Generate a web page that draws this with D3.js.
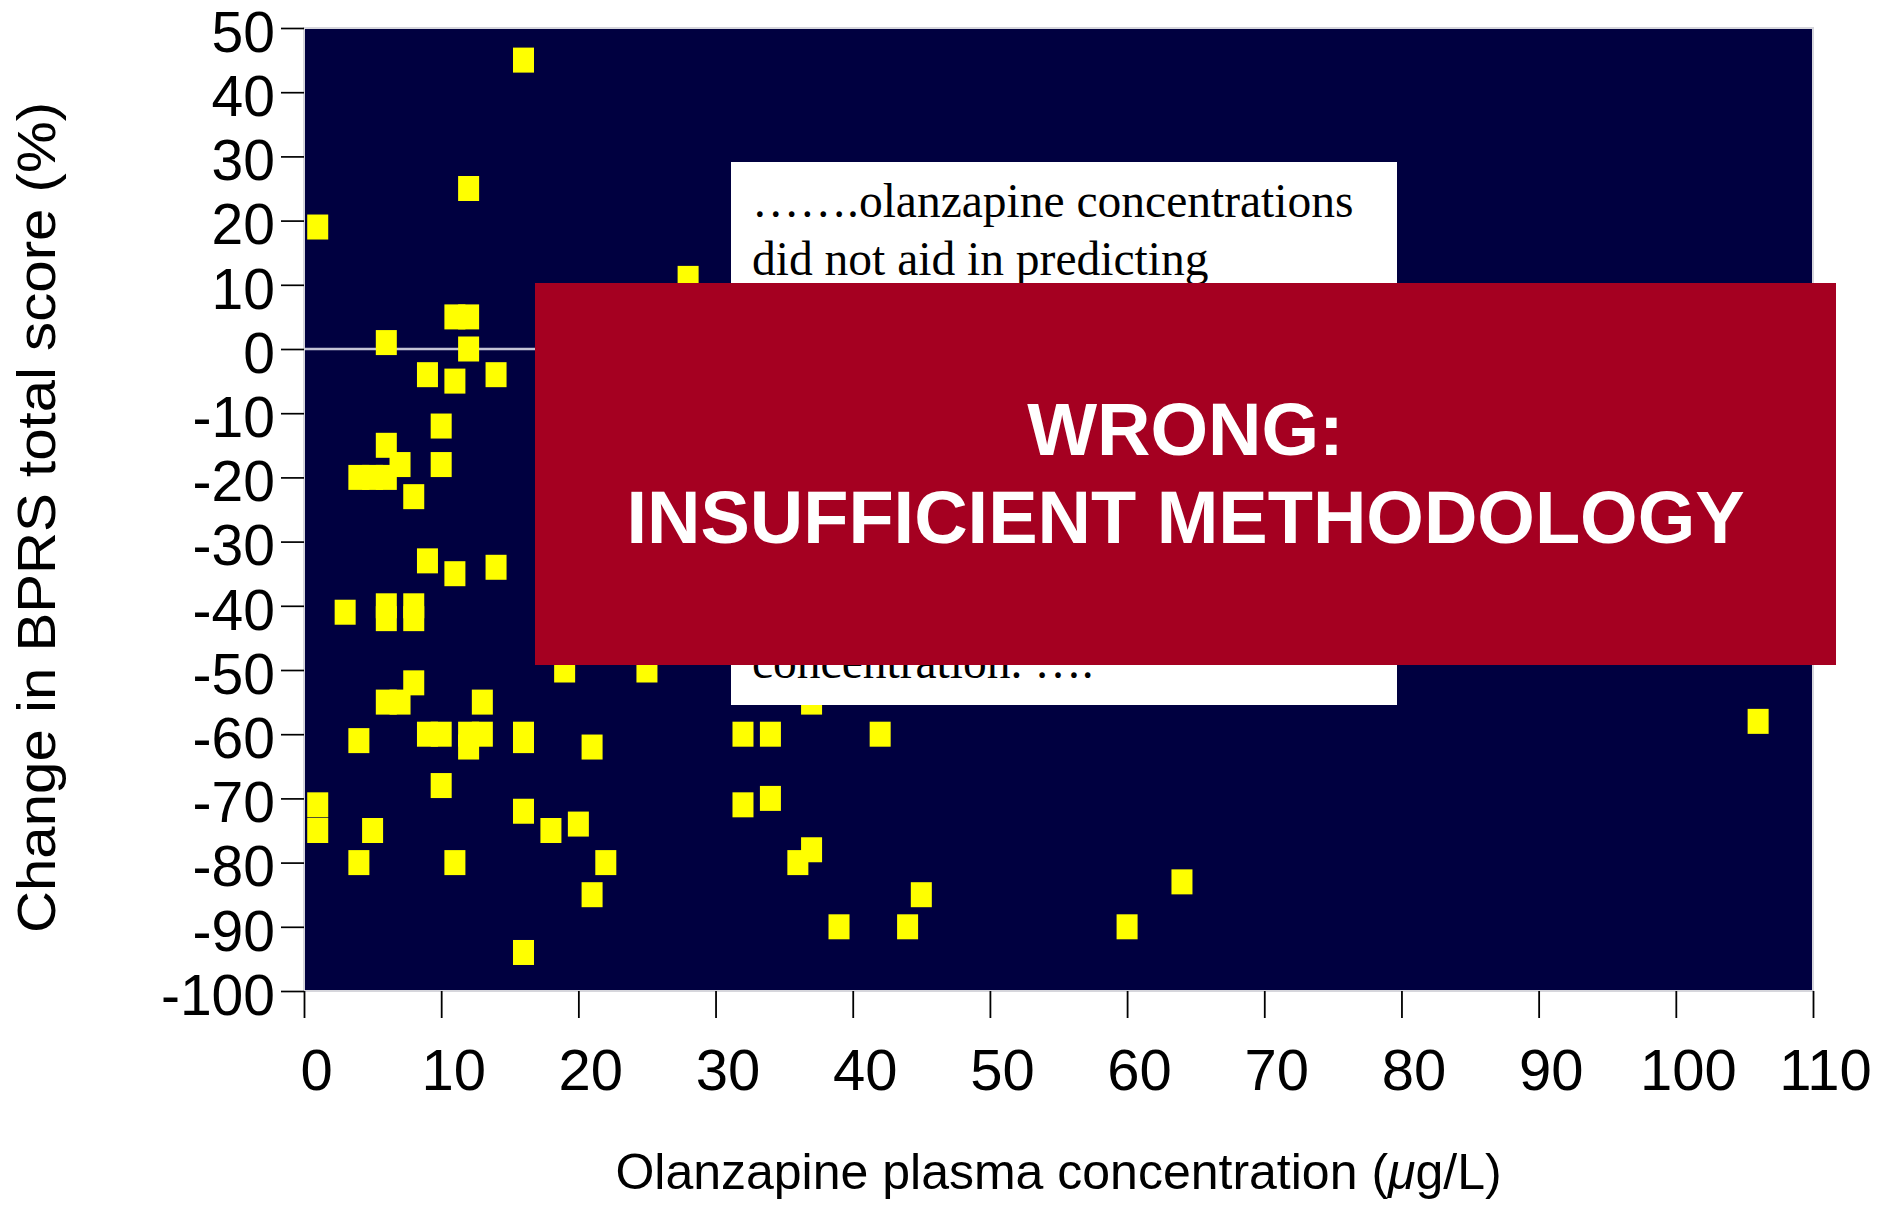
<!DOCTYPE html>
<html>
<head>
<meta charset="utf-8">
<script src="https://cdn.jsdelivr.net/npm/d3@7"></script>
<style>
  body { margin: 0; background: #fff; }
  svg { display: block; }
  text { font-family: "Liberation Sans", Arial, sans-serif; }
</style>
</head>
<body>
<svg id="chart"></svg>
<script>
// olanzapine plasma concentration (ug/L) vs change in BPRS total score (%)
const concentration = [
  1, 16, 12, 28, 6, 11, 12, 12, 9, 11, 14, 10, 6, 7, 4, 5, 6, 10, 8,
  9, 11, 14, 3, 6, 6, 8, 8, 8, 6, 7, 13, 19, 25, 4, 9, 10, 12, 13, 12,
  16, 16, 21, 10, 1, 1, 5, 16, 18, 20, 4, 11, 22, 21, 16,
  37, 32, 34, 42, 32, 34, 36, 37, 45, 39, 44, 60, 64, 106
];
const bprsChange = [
  19, 45, 25, 11, 1, 5, 5, 0, -4, -5, -4, -12, -15, -18, -20, -20, -20, -18, -23,
  -33, -35, -34, -41, -40, -42, -40, -42, -52, -55, -55, -55, -50, -50, -61, -60, -60, -60, -60, -62,
  -60, -61, -62, -68, -71, -75, -75, -72, -75, -74, -80, -80, -80, -85, -94,
  -55, -60, -60, -60, -71, -70, -80, -78, -85, -90, -90, -90, -83, -58
];

const xTicks = [0, 10, 20, 30, 40, 50, 60, 70, 80, 90, 100, 110];
const yTicks = [50, 40, 30, 20, 10, 0, -10, -20, -30, -40, -50, -60, -70, -80, -90, -100];

const xTitleParts = [
  { t: "Olanzapine plasma concentration (", italic: false },
  { t: "\u03BC", italic: true },
  { t: "g/L)", italic: false }
];
const yTitle = "Change in BPRS total score (%)";
const noteLines = ["\u2026\u2026.olanzapine concentrations", "did not aid in predicting"];
const noteTail = "concentration. \u2026.";
const stampLines = ["WRONG:", "INSUFFICIENT METHODOLOGY"];

const W = 1888, H = 1213;
const margin = { top: 28, right: 75, bottom: 222, left: 304 };
const width = W - margin.left - margin.right;
const height = H - margin.top - margin.bottom;

const svg = d3.select("#chart").attr("width", W).attr("height", H);

const x = d3.scaleLinear().domain([0, 110]).range([0, width]);
const y = d3.scaleLinear().domain([-100, 50]).range([height, 0]);

const plot = svg.append("g")
  .attr("transform", `translate(${margin.left},${margin.top})`);

plot.append("rect")
  .attr("width", width)
  .attr("height", height)
  .attr("fill", "#000040");

plot.append("line")
  .attr("x1", 0).attr("x2", width)
  .attr("y1", y(0)).attr("y2", y(0))
  .attr("stroke", "#c4c4d6")
  .attr("stroke-width", 2.5);

const points = concentration.map((c, i) => ({ c, v: bprsChange[i] }));

plot.selectAll("rect.pt")
  .data(points)
  .join("rect")
  .attr("class", "pt")
  .attr("x", d => x(d.c) - 10.5)
  .attr("y", d => y(d.v) - 12.5)
  .attr("width", 21)
  .attr("height", 25)
  .attr("fill", "#ffff00");

// frame
plot.append("rect")
  .attr("width", width)
  .attr("height", height)
  .attr("fill", "none")
  .attr("stroke", "#d6d6dc")
  .attr("stroke-width", 2);

// axes
const yAxis = plot.append("g")
  .call(d3.axisLeft(y).tickValues(yTicks).tickSize(23).tickPadding(6).tickFormat(d => String(d)));
yAxis.select(".domain").remove();
yAxis.selectAll("line").attr("stroke", "#000").attr("stroke-width", 1.7);
yAxis.selectAll("text")
  .attr("dy", "0.41em")
  .attr("fill", "#000")
  .style("font-size", "57px");

const xAxis = plot.append("g")
  .attr("transform", `translate(0,${height})`)
  .call(d3.axisBottom(x).tickValues(xTicks).tickSize(27).tickPadding(31).tickFormat(d => String(d)));
xAxis.select(".domain").remove();
xAxis.selectAll("line").attr("stroke", "#000").attr("stroke-width", 1.8);
xAxis.selectAll("text")
  .attr("dx", 12)
  .attr("fill", "#000")
  .style("font-size", "58px");

// axis titles
svg.append("text")
  .attr("x", margin.left + width / 2)
  .attr("y", 1189)
  .attr("text-anchor", "middle")
  .style("font-size", "50px")
  .selectAll("tspan")
  .data(xTitleParts)
  .join("tspan")
  .style("font-style", d => d.italic ? "italic" : "normal")
  .text(d => d.t);

svg.append("text")
  .attr("transform", "translate(55,517.5) rotate(-90)")
  .attr("text-anchor", "middle")
  .attr("textLength", 831)
  .attr("lengthAdjust", "spacingAndGlyphs")
  .style("font-size", "53px")
  .text(yTitle);

// quoted note
const note = svg.append("g");
note.append("rect")
  .attr("x", 731).attr("y", 162)
  .attr("width", 666).attr("height", 543)
  .attr("fill", "#fff");
note.selectAll("text.line")
  .data(noteLines)
  .join("text")
  .attr("class", "line")
  .attr("x", 752)
  .attr("y", (d, i) => 216.7 + i * 58.3)
  .style("font-family", "'Liberation Serif', 'Times New Roman', serif")
  .style("font-size", "47.5px")
  .text(d => d);
note.append("text")
  .attr("x", 752)
  .attr("y", 678)
  .style("font-family", "'Liberation Serif', 'Times New Roman', serif")
  .style("font-size", "47.5px")
  .text(noteTail);

// verdict stamp
const stamp = svg.append("g");
stamp.append("rect")
  .attr("x", 535).attr("y", 283)
  .attr("width", 1301).attr("height", 382)
  .attr("fill", "#a50021");
stamp.selectAll("text")
  .data(stampLines)
  .join("text")
  .attr("x", 535 + 1301 / 2)
  .attr("y", (d, i) => 455 + i * 88.3)
  .attr("text-anchor", "middle")
  .attr("fill", "#fff")
  .style("font-size", "74px")
  .style("font-weight", "bold")
  .text(d => d);
</script>
</body>
</html>
